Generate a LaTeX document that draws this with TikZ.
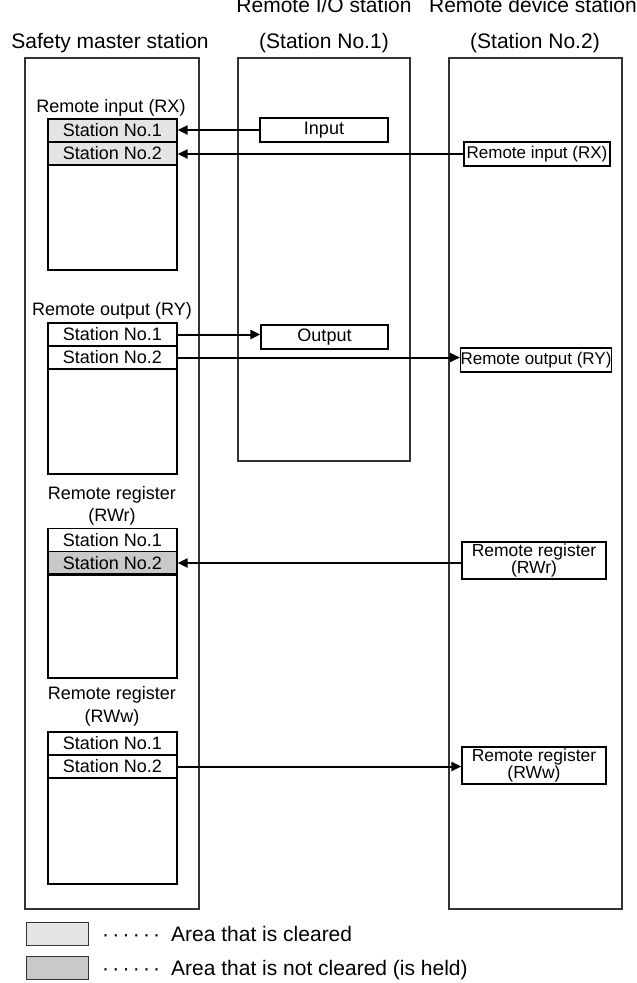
\documentclass[tikz,border=0pt]{standalone}
\usepackage{fontspec}
\setmainfont{Liberation Sans}
\usetikzlibrary{arrows.meta}
\definecolor{cleared}{HTML}{E4E4E4}
\definecolor{held}{HTML}{C9C9C9}
\definecolor{boxline}{HTML}{333333}
\begin{document}
\begin{tikzpicture}[x=1pt,y=-1pt,
  stationbox/.style={draw=boxline,line width=1.2pt},
  hdr/.style={font=\fontsize{21}{24}\selectfont,anchor=base,inner sep=0pt},
  lbl/.style={font=\fontsize{18}{20}\selectfont,anchor=base,inner sep=0pt},
  cell/.style={draw=black,line width=1.2pt,minimum width=129pt,minimum height=23pt,
               inner sep=0pt,font=\fontsize{18}{20}\selectfont},
  tableframe/.style={draw=black,line width=1.2pt},
  sep/.style={line width=2.2pt},
  iobox/.style={draw=black,line width=1.2pt,inner sep=0pt,minimum height=24pt,
                font=\fontsize{18}{20}\selectfont},
  devbox/.style={draw=black,line width=1.2pt,inner sep=0pt,align=center,
                 font=\fontsize{17}{15}\selectfont},
  regbox/.style={devbox,font=\fontsize{17.5}{15}\selectfont},
  arr/.style={line width=2pt,-{Triangle[length=10pt,width=9pt]}},
  legbox/.style={draw=boxline,line width=1pt,minimum width=62pt,minimum height=23pt,inner sep=0pt},
  legtext/.style={font=\fontsize{21}{24}\selectfont,anchor=base west,inner sep=0pt},
]
\useasboundingbox (0,0) rectangle (637,983);

% headers
\node[hdr] (hmaster) at (110,48) {Safety master station};
\node[hdr] (hio1) at (324,12) {Remote I/O station};
\node[hdr] (hio2) at (324,48) {(Station No.1)};
\node[hdr] (hdev1) at (533,12) {Remote device station};
\node[hdr] (hdev2) at (535,48) {(Station No.2)};

% station frames
\draw[stationbox] (25,58) rectangle (199,909);
\draw[stationbox] (238,58) rectangle (410,461);
\draw[stationbox] (449,58) rectangle (622,909);

% remote input (RX)
\node[lbl] (lrx) at (111,112) {Remote input (RX)};
\draw[tableframe] (48,119) rectangle (177,270);
\node[cell,fill=cleared] (rx1) at (112.5,130.5) {Station No.1};
\node[cell,fill=cleared] (rx2) at (112.5,153.5) {Station No.2};
\draw[sep] (48,142) -- (177,142);
\draw[sep] (48,165) -- (177,165);

% remote output (RY)
\node[lbl] (lry) at (112,315) {Remote output (RY)};
\draw[tableframe] (48,323) rectangle (177,474);
\node[cell] (ry1) at (112.5,334.5) {Station No.1};
\node[cell] (ry2) at (112.5,357.5) {Station No.2};
\draw[sep] (48,346) -- (177,346);
\draw[sep] (48,369) -- (177,369);

% remote register (RWr)
\node[lbl] (lrwr1) at (112,499) {Remote register};
\node[lbl] (lrwr2) at (112,521) {(RWr)};
\draw[tableframe] (48,528.5) rectangle (177,678);
\node[cell] (rr1) at (112.5,540) {Station No.1};
\node[cell,fill=held] (rr2) at (112.5,563) {Station No.2};
\draw[sep] (48,574.5) -- (177,574.5);

% remote register (RWw)
\node[lbl] (lrww1) at (112,699) {Remote register};
\node[lbl] (lrww2) at (112,722) {(RWw)};
\draw[tableframe] (48,732) rectangle (177,884);
\node[cell] (rw1) at (112.5,743.5) {Station No.1};
\node[cell] (rw2) at (112.5,766.5) {Station No.2};
\draw[sep] (48,755) -- (177,755);
\draw[sep] (48,778) -- (177,778);

% remote I/O station data
\node[iobox,minimum width=128pt] (inp) at (324,130) {Input};
\node[iobox,minimum width=127pt] (outp) at (324.5,337) {Output};

% remote device station data
\node[devbox,minimum width=146pt,minimum height=24pt] (devrx) at (537,154) {Remote input (RX)};
\node[devbox,minimum width=150pt,minimum height=24pt] (devry) at (536,360) {Remote output (RY)};
\node[regbox,minimum width=144pt,minimum height=37pt] (devrwr) at (534,560.5) {Remote register\\(RWr)};
\node[regbox,minimum width=144pt,minimum height=37pt] (devrww) at (534,765.5) {Remote register\\(RWw)};

% transfers
\draw[arr] (inp.west) -- (inp.west -| rx1.east);
\draw[arr] (devrx.west) -- (devrx.west -| rx2.east);
\draw[arr] (ry1.east) -- (ry1.east -| outp.west);
\draw[arr] (ry2.east) -- (ry2.east -| devry.west);
\draw[arr] (rr2.east -| devrwr.west) -- (rr2.east);
\draw[arr] (rw2.east) -- (rw2.east -| devrww.west);

% legend
\node[legbox,fill=cleared] (legA) at (57,933.5) {};
\node[legbox,fill=held] (legB) at (57,968) {};
\node[legtext] (legAtext) at (102,941) {\makebox[58pt][s]{·\hfil·\hfil·\hfil·\hfil·\hfil·}\hspace{11pt}Area that is cleared};
\node[legtext] (legBtext) at (102,975) {\makebox[58pt][s]{·\hfil·\hfil·\hfil·\hfil·\hfil·}\hspace{11pt}Area that is not cleared (is held)};
\end{tikzpicture}
\end{document}
